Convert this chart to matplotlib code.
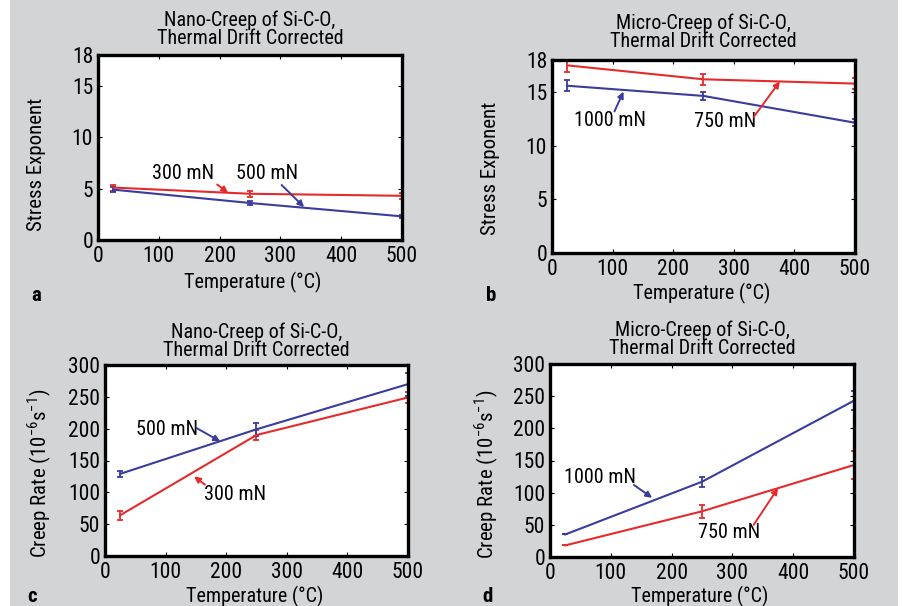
import matplotlib.pyplot as plt
from matplotlib.patches import Rectangle

plt.rcParams['font.family'] = ['Roboto Condensed', 'Liberation Sans Narrow',
                               'Liberation Sans', 'DejaVu Sans']
plt.rcParams['mathtext.fontset'] = 'custom'
plt.rcParams['mathtext.rm'] = 'Roboto Condensed'

RED = '#e62a2c'
BLUE = '#3a3c9e'
BG = '#d3d4d6'

temps = [25, 250, 500]

# stress exponent, nano creep
n_nano_300 = [5.1, 4.5, 4.3]
n_nano_300_err = [0.3, 0.3, 0.3]
n_nano_500 = [4.9, 3.6, 2.3]
n_nano_500_err = [0.25, 0.2, 0.15]

# stress exponent, micro creep
n_micro_750 = [17.5, 16.2, 15.8]
n_micro_750_err = [0.6, 0.5, 0.5]
n_micro_1000 = [15.6, 14.65, 12.15]
n_micro_1000_err = [0.5, 0.4, 0.35]

# creep rate (1e-6 /s), nano creep
rate_nano_300 = [64, 190, 249]
rate_nano_300_err = [7, 8, 8]
rate_nano_500 = [129, 199, 270]
rate_nano_500_err = [5, 10, 18]

# creep rate (1e-6 /s), micro creep
rate_micro_750 = [18, 71, 143]
rate_micro_750_err = [0, 10, 22]
rate_micro_1000 = [35, 117, 243]
rate_micro_1000_err = [0, 8, 15]

title_nano = 'Nano-Creep of Si-C-O,\nThermal Drift Corrected'
title_micro = 'Micro-Creep of Si-C-O,\nThermal Drift Corrected'
ylab_n = 'Stress Exponent'
ylab_rate = 'Creep Rate (10$^{-6}$s$^{-1}$)'
xlab = 'Temperature (°C)'

W, H = 904, 606
fig = plt.figure(figsize=(W / 100, H / 100), dpi=100)
fig.patch.set_facecolor('white')
fig.add_artist(Rectangle((10 / W, 0), 888 / W, 1, transform=fig.transFigure,
                         facecolor=BG, edgecolor='none', zorder=-10))


def make_axes(x0, y0, x1, y1):
    ax = fig.add_axes([x0 / W, (H - y1) / H, (x1 - x0) / W, (y1 - y0) / H])
    ax.set_facecolor('white')
    for s in ax.spines.values():
        s.set_linewidth(2.4)
    ax.tick_params(direction='in', top=True, right=True, length=3, width=0.8,
                   labelsize=15.5)
    ax.tick_params(axis='x', pad=4.5)
    ax.tick_params(axis='y', pad=3.5)
    ax.set_xlim(0, 500)
    ax.set_xticks(range(0, 501, 100))
    return ax


def series(ax, y, err, color):
    ax.errorbar(temps, y, yerr=err, color=color, lw=1.5, capsize=2.5,
                elinewidth=1.3, capthick=1.3)


def label(ax, text, pos, tail, head, color):
    ax.text(pos[0], pos[1], text, fontsize=14.5, ha='center', va='center')
    ax.annotate('', xy=head, xytext=tail,
                arrowprops=dict(arrowstyle='-|>', color=color, lw=1.4,
                                mutation_scale=9, shrinkA=0, shrinkB=0))


def decorate(ax, title, ylab, ty, xl, yl):
    ax.text(0.5, ty, title, transform=ax.transAxes, ha='center', va='center',
            fontsize=14.5, linespacing=0.95)
    ax.set_ylabel(ylab, fontsize=15)
    ax.set_xlabel(xlab, fontsize=14.5)
    ax.yaxis.set_label_coords(yl[0], yl[1])
    ax.xaxis.set_label_coords(xl[0], xl[1])


# a: nano-creep stress exponent
ax = make_axes(98, 55, 402, 240)
ax.set_ylim(0, 18)
ax.set_yticks([0, 5, 10, 15, 18])
series(ax, n_nano_300, n_nano_300_err, RED)
series(ax, n_nano_500, n_nano_500_err, BLUE)
label(ax, '300 mN', (140, 6.5), (196, 5.4), (214, 4.6), RED)
label(ax, '500 mN', (278, 6.5), (302, 5.35), (339, 3.2), BLUE)
decorate(ax, title_nano, ylab_n, 1.14, (0.51, -0.17), (-0.172, 0.41))

# b: micro-creep stress exponent
ax = make_axes(552, 60, 855, 253)
ax.set_ylim(0, 18)
ax.set_yticks([0, 5, 10, 15, 18])
series(ax, n_micro_750, n_micro_750_err, RED)
series(ax, n_micro_1000, n_micro_1000_err, BLUE)
label(ax, '1000 mN', (96, 12.4), (103, 13.2), (118, 15.05), BLUE)
label(ax, '750 mN', (285, 12.25), (333, 12.7), (376, 16.0), RED)
decorate(ax, title_micro, ylab_n, 1.142, (0.495, -0.155), (-0.172, 0.44))

# c: nano-creep rate
ax = make_axes(105, 365, 408, 556)
ax.set_ylim(0, 300)
ax.set_yticks(range(0, 301, 50))
series(ax, rate_nano_300, rate_nano_300_err, RED)
series(ax, rate_nano_500, rate_nano_500_err, BLUE)
label(ax, '500 mN', (102, 198), (151, 201), (190, 180), BLUE)
label(ax, '300 mN', (214, 96), (165, 112), (147, 125), RED)
decorate(ax, title_nano, ylab_rate, 1.126, (0.495, -0.157), (-0.168, 0.43))

# d: micro-creep rate
ax = make_axes(550, 364, 854, 557)
ax.set_ylim(0, 300)
ax.set_yticks(range(0, 301, 50))
series(ax, rate_micro_750, rate_micro_750_err, RED)
series(ax, rate_micro_1000, rate_micro_1000_err, BLUE)
label(ax, '1000 mN', (83, 123), (138, 112), (168, 92), BLUE)
label(ax, '750 mN', (294, 38), (335, 50), (375, 107), RED)
decorate(ax, title_micro, ylab_rate, 1.13, (0.493, -0.148), (-0.16, 0.43))

for letter, (px, py) in zip('abcd', [(36, 295), (491, 295), (32, 597), (488, 597)]):
    fig.text(px / W, 1 - py / H, letter, fontsize=15, fontweight='bold',
             ha='center', va='center')

fig.savefig('out.png', dpi=100)
